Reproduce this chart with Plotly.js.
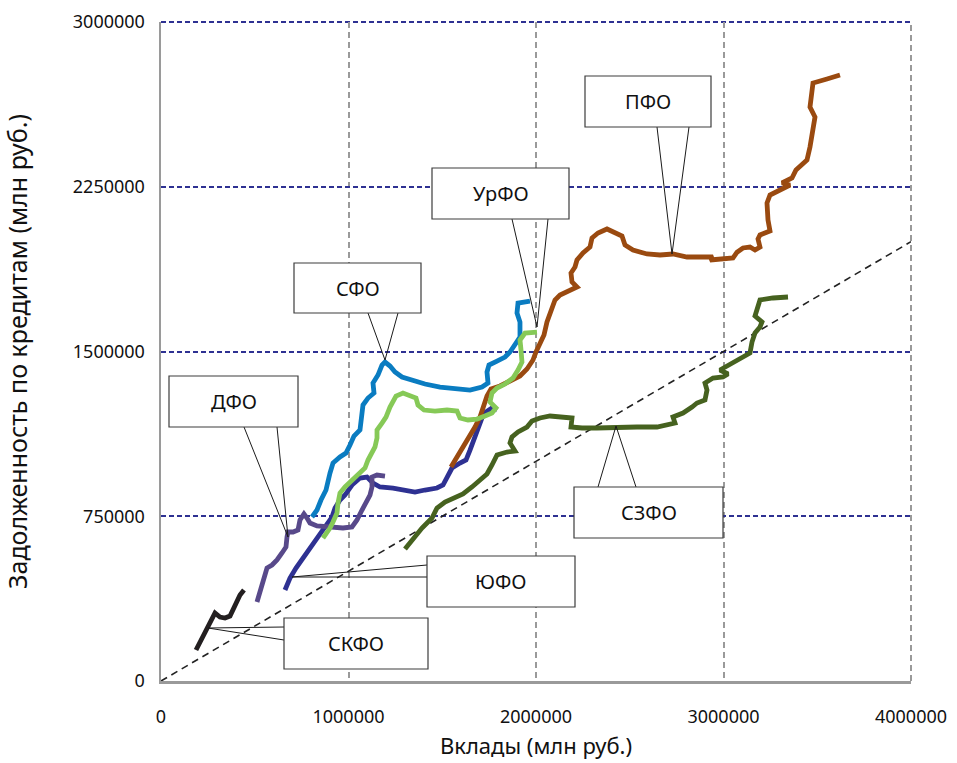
<!DOCTYPE html>
<html>
<head>
<meta charset="utf-8">
<script src="https://cdn.plot.ly/plotly-3.0.1.min.js"></script>
<style>html,body{margin:0;padding:0;background:#fff;}#chart{width:957px;height:763px;}</style>
</head>
<body>
<div id="chart"></div>
<script>
// ---- Data (млн руб.) ----
const skfoX = [186700, 218700, 245300, 272000, 288000, 314600, 341300, 368000, 384000, 405300, 421300, 442600];
const skfoY = [141100, 195700, 245800, 291300, 309500, 291300, 286800, 295900, 323200, 355100, 391500, 414200];

const dfoX = [512000, 528000, 544000, 565300, 592000, 618600, 645300, 666600, 672000, 677300, 704000, 730600, 741300, 762600, 778600, 794600, 832000, 901300, 970600, 1018600, 1045300, 1072000, 1093300, 1114600, 1125300, 1125300, 1152000, 1194600];
const dfoY = [359600, 405100, 459800, 514400, 528000, 550800, 582700, 610000, 655500, 678200, 678200, 687400, 732900, 760200, 742000, 719200, 705600, 701000, 696500, 701000, 732900, 778400, 810300, 846700, 883100, 928600, 937700, 933200];

const yufoX = [661300, 688000, 720000, 757300, 794600, 837300, 874600, 912000, 928000, 954600, 981300, 1018600, 1061300, 1098600, 1130600, 1168000, 1237300, 1301300, 1354600, 1408000, 1472000, 1504000, 1525300, 1552000, 1594600, 1626600, 1648000, 1669300, 1690600, 1712000, 1733300, 1765300, 1792000];
const yufoY = [414200, 468900, 514400, 559900, 605400, 655500, 701000, 746500, 787500, 823900, 846700, 892200, 924100, 928600, 901300, 883100, 878500, 869400, 860300, 869400, 878500, 892200, 928600, 969600, 992300, 1006000, 1051500, 1097000, 1151700, 1197200, 1224500, 1242700, 1233600];

const sfoX = [805300, 832000, 853300, 880000, 901300, 917300, 954600, 986600, 1008000, 1029300, 1061300, 1072000, 1077300, 1104000, 1136000, 1130600, 1157300, 1178600, 1194600, 1221300, 1248000, 1285300, 1338600, 1408000, 1488000, 1568000, 1648000, 1712000, 1744000, 1738600, 1749300, 1792000, 1834600, 1861300, 1888000, 1914600, 1914600, 1898600, 1904000, 1968000];
const sfoY = [746500, 778400, 823900, 869400, 946800, 992300, 1019600, 1037900, 1074300, 1115200, 1142600, 1197200, 1256400, 1288200, 1311000, 1356500, 1392900, 1438400, 1452100, 1433900, 1406600, 1383800, 1370200, 1352000, 1338300, 1329200, 1324600, 1338300, 1356500, 1406600, 1438400, 1456600, 1474800, 1497600, 1534000, 1565900, 1634200, 1675100, 1720700, 1729800];

const urfoX = [864000, 885300, 901300, 917300, 938600, 944000, 954600, 981300, 1018600, 1050600, 1088000, 1104000, 1125300, 1141300, 1152000, 1152000, 1178600, 1200000, 1221300, 1237300, 1253300, 1290600, 1328000, 1360000, 1370600, 1402600, 1461300, 1525300, 1578600, 1594600, 1637300, 1685300, 1728000, 1765300, 1786600, 1754600, 1765300, 1792000, 1834600, 1877300, 1904000, 1925300, 1920000, 1914600, 1941300, 2005300];
const urfoY = [650900, 673700, 696500, 723800, 764700, 810300, 855800, 883100, 915000, 937700, 969600, 1006000, 1037900, 1065200, 1106100, 1142600, 1174400, 1201700, 1247200, 1279100, 1297300, 1311000, 1297300, 1288200, 1256400, 1233600, 1229000, 1233600, 1229000, 1197200, 1188100, 1192600, 1206300, 1219900, 1242700, 1270000, 1311000, 1333700, 1351900, 1379200, 1415700, 1452100, 1506700, 1552300, 1584100, 1588700];

const pfoX = [1546700, 1578600, 1610600, 1648000, 1674600, 1701300, 1722600, 1738600, 1760000, 1808000, 1861300, 1914600, 1952000, 1984000, 2000000, 2021300, 2042600, 2058600, 2080000, 2101300, 2128000, 2160000, 2218600, 2192000, 2192000, 2186600, 2208000, 2218600, 2250600, 2288000, 2298600, 2330600, 2378600, 2410600, 2458600, 2474600, 2517300, 2592000, 2661300, 2730600, 2805300, 2874600, 2944000, 2928000, 2992000, 3050600, 3072000, 3104000, 3141300, 3168000, 3194600, 3184000, 3194600, 3248000, 3237300, 3232000, 3248000, 3301300, 3354600, 3312000, 3365300, 3386600, 3445300, 3461300, 3488000, 3461300, 3477300, 3552000, 3621300];
const pfoY = [974200, 1019700, 1065200, 1110800, 1156300, 1201800, 1256400, 1297400, 1329300, 1342900, 1365700, 1388500, 1420300, 1461300, 1497700, 1538700, 1575100, 1634300, 1693500, 1734400, 1757200, 1770800, 1793600, 1816400, 1843700, 1857400, 1884700, 1916500, 1948400, 1975700, 2016700, 2039500, 2057700, 2044000, 2025800, 1984800, 1962100, 1943900, 1939300, 1943900, 1930200, 1930200, 1930200, 1916500, 1921100, 1925700, 1952000, 1971200, 1975700, 1962100, 1975700, 2012100, 2030300, 2048600, 2098600, 2176000, 2212400, 2235200, 2257900, 2267000, 2289800, 2326200, 2371800, 2430900, 2567500, 2613000, 2722300, 2740500, 2758700];

const szfoX = [1301300, 1344000, 1392000, 1445300, 1472000, 1514600, 1568000, 1610600, 1658600, 1701300, 1738600, 1765300, 1792000, 1845300, 1888000, 1861300, 1872000, 1904000, 1952000, 1978600, 2021300, 2074600, 2144000, 2192000, 2186600, 2245300, 2325300, 2432000, 2538600, 2645300, 2698600, 2741300, 2730600, 2784000, 2832000, 2858600, 2901300, 2912000, 2901300, 2944000, 2997300, 3024000, 2981300, 3050600, 3088000, 3141300, 3152000, 3168000, 3194600, 3205300, 3168000, 3178600, 3194600, 3264000, 3344000];
const szfoY = [600900, 646400, 696500, 742000, 787500, 814900, 833100, 851300, 883200, 915000, 942300, 983300, 1028800, 1042500, 1047000, 1083500, 1110800, 1133500, 1156300, 1183600, 1197300, 1206400, 1201800, 1197300, 1156300, 1151700, 1151700, 1156300, 1156300, 1156300, 1165400, 1174500, 1201800, 1220000, 1247300, 1265600, 1279200, 1324700, 1356600, 1379300, 1383900, 1397600, 1415800, 1447600, 1470400, 1493200, 1543200, 1584200, 1611500, 1634300, 1661600, 1698000, 1734500, 1743600, 1748100];

const diagX = [0, 4000000];
const diagY = [0, 2000000];

const xTicks = [0, 1000000, 2000000, 3000000, 4000000];
const yTicks = [0, 750000, 1500000, 2250000, 3000000];
const names = ['СЗФО', 'ЮФО', 'ДФО', 'СКФО', 'ПФО', 'СФО', 'УрФО'];

// ---- Layout helpers (pixel -> data, for callout placement only) ----
const L = 161, R = 911, T = 22, B = 681;
const XMAX = 4000000, YMAX = 3000000;
function dx(px) { return (px - L) / (R - L) * XMAX; }
function dy(py) { return (B - py) / (B - T) * YMAX; }

function line(x, y, color, name) {
  return { x: x, y: y, mode: 'lines', name: name, type: 'scatter',
    line: { color: color, width: 4.8, shape: 'linear' }, hoverinfo: 'skip' };
}

const traces = [
  { x: diagX, y: diagY, mode: 'lines', type: 'scatter', line: { color: '#222', width: 1.6, dash: '7px,5px' }, hoverinfo: 'skip' },
  line(szfoX, szfoY, '#46621f', names[0]),
  line(yufoX, yufoY, '#2e3192', names[1]),
  line(dfoX, dfoY, '#58498a', names[2]),
  line(skfoX, skfoY, '#231f20', names[3]),
  line(pfoX, pfoY, '#9a4a10', names[4]),
  line(sfoX, sfoY, '#0a7cc1', names[5]),
  line(urfoX, urfoY, '#86c957', names[6])
];

// callouts: box [x0,y0,x1,y1] in px, wedge [base1, tip, base2] in px
const callouts = [
  { text: 'ПФО',  box: [585, 76, 711, 127], wedge: [[657,127],[672,254],[689,127]] },
  { text: 'УрФО', box: [432, 168, 569, 219], wedge: [[512,219],[537,327],[548,219]] },
  { text: 'СФО',  box: [294, 263, 421, 313], wedge: [[368,313],[385,360],[398,313]] },
  { text: 'ДФО',  box: [169, 376, 298, 427], wedge: [[244,427],[288,537],[277,427]] },
  { text: 'ЮФО',  box: [427, 556, 575, 607], wedge: [[427,565],[292,577],[427,577]] },
  { text: 'СКФО', box: [284, 618, 428, 669], wedge: [[284,627],[208,628],[284,640]] },
  { text: 'СЗФО', box: [574, 487, 723, 538], wedge: [[598,487],[616,426],[636,487]] }
];

const FAM = 'Noto Sans, Open Sans, sans-serif';
const shapes = [
  // top edge gridline (3000000) and right edge gridline (4000000)
  { type: 'line', xref: 'paper', yref: 'paper', x0: 0, x1: 1, y0: 1, y1: 1, layer: 'below',
    line: { color: '#2e3192', width: 2, dash: '5px,3px' } },
  { type: 'line', xref: 'paper', yref: 'paper', x0: 1, x1: 1, y0: 0, y1: 1, layer: 'below',
    line: { color: '#9a9a9a', width: 2, dash: '6px,4px' } }
];
const annotations = [];
callouts.forEach(c => {
  const [x0, y0, x1, y1] = c.box;
  shapes.push({ type: 'path', xref: 'x', yref: 'y', layer: 'above',
    path: 'M' + dx(c.wedge[0][0]) + ',' + dy(c.wedge[0][1]) + ' L' + dx(c.wedge[1][0]) + ',' + dy(c.wedge[1][1]) + ' L' + dx(c.wedge[2][0]) + ',' + dy(c.wedge[2][1]),
    line: { color: '#1a1a1a', width: 1 } });
  shapes.push({ type: 'rect', xref: 'x', yref: 'y', layer: 'above',
    x0: dx(x0), x1: dx(x1), y0: dy(y1), y1: dy(y0),
    fillcolor: '#ffffff', line: { color: '#3c3c3c', width: 1.2 } });
  annotations.push({ xref: 'x', yref: 'y', x: dx((x0 + x1) / 2), y: dy((y0 + y1) / 2),
    text: c.text, showarrow: false, xanchor: 'center', yanchor: 'middle',
    font: { family: FAM, size: 20, color: '#111' } });
});

const font = { family: FAM, size: 18, color: '#111' };

const layout = {
  width: 957, height: 763,
  margin: { l: L, r: 957 - R, t: T, b: 763 - B, pad: 0 },
  paper_bgcolor: '#ffffff', plot_bgcolor: '#ffffff',
  showlegend: false,
  font: font,
  xaxis: {
    range: [0, XMAX], tickvals: xTicks, ticktext: xTicks.map(String),
    showgrid: true, gridcolor: '#9a9a9a', gridwidth: 2, griddash: '6px,4px',
    zeroline: false, showline: true, linecolor: '#9a9a9a', linewidth: 2.5,
    ticks: '', ticklabelstandoff: 18, tickfont: font,
    title: { text: 'Вклады (млн руб.)', font: { family: FAM, size: 22, color: '#111' }, standoff: 12 },
    fixedrange: true
  },
  yaxis: {
    range: [0, YMAX], tickvals: yTicks, ticktext: yTicks.map(String),
    showgrid: true, gridcolor: '#2e3192', gridwidth: 2, griddash: '5px,3px',
    zeroline: false, showline: true, linecolor: '#9a9a9a', linewidth: 2.5,
    ticks: '', ticklabelstandoff: 10, tickfont: font,
    title: { text: 'Задолженность по кредитам (млн руб.)', font: { family: FAM, size: 25, color: '#111' }, standoff: 50 },
    fixedrange: true
  },
  shapes: shapes,
  annotations: annotations
};

Plotly.newPlot('chart', traces, layout, { staticPlot: true, displayModeBar: false });
</script>
</body>
</html>
